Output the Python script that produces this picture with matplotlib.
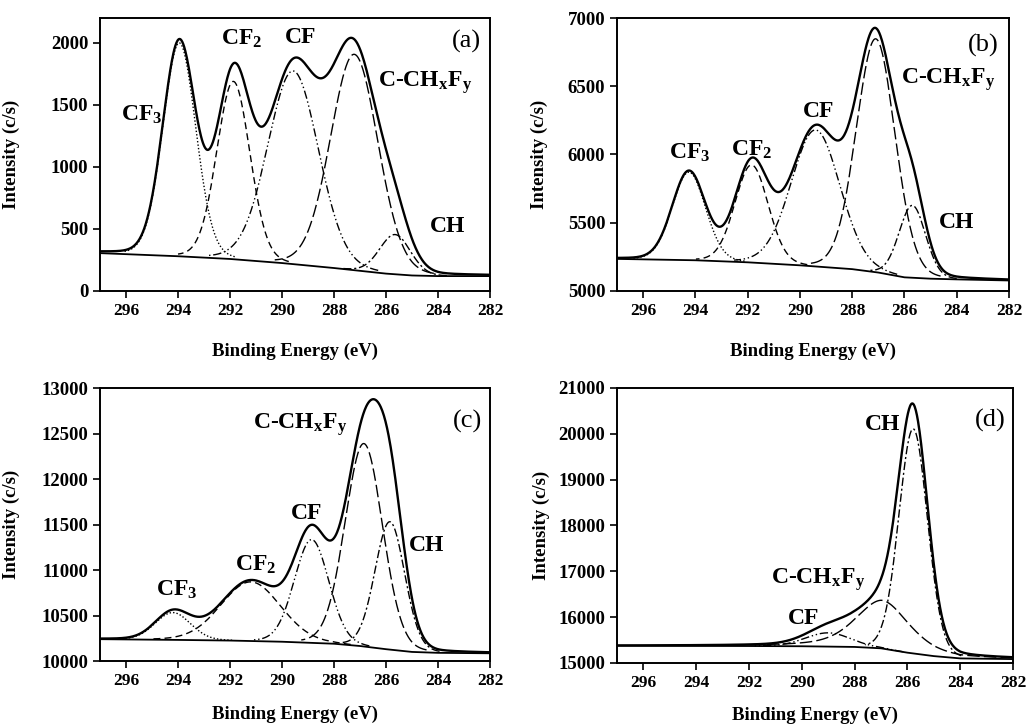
import numpy as np
import matplotlib.pyplot as plt

plt.rcParams['font.family'] = 'Liberation Serif'
plt.rcParams['font.weight'] = 'bold'
plt.rcParams['mathtext.fontset'] = 'custom'
plt.rcParams['mathtext.rm'] = 'Liberation Serif:bold'
plt.rcParams['mathtext.it'] = 'Liberation Serif:bold'
plt.rcParams['mathtext.bf'] = 'Liberation Serif:bold'

# fitted components: CF3, CF2, CF, C-CHxFy, CH
names = [r'CF$_3$', r'CF$_2$', 'CF', r'C-CH$_x$F$_y$', 'CH']
styles = [(0, (1, 1.5)), (0, (5, 3)), (0, (6, 2, 1, 2, 1, 2)),
          (0, (9, 3)), (0, (6, 2, 1.5, 2))]

# (a)
a_center = [293.95, 291.87, 289.57, 287.22, 285.65]
a_height = [1720, 1433, 1557, 1740, 320]
a_fwhm = [1.5, 1.5, 2.3, 2.15, 1.4]
a_eta = [0.08, 0.08, 0.08, 0.08, 0.08]
a_bg_x = [282, 284, 285, 286, 288, 290, 292, 294, 297]
a_bg_y = [120, 120, 125, 140, 185, 225, 258, 280, 305]

# (b)
b_center = [294.25, 291.85, 289.4, 287.1, 285.7]
b_height = [645, 715, 1000, 1710, 530]
b_fwhm = [1.5, 1.5, 2.2, 1.75, 1.2]
b_eta = [0.08, 0.08, 0.08, 0.08, 0.08]
b_bg_x = [282, 284, 285, 286, 287, 288, 290, 292, 294, 297]
b_bg_y = [5077, 5085, 5090, 5100, 5135, 5160, 5188, 5210, 5225, 5235]

# (c)
c_center = [294.2, 291.2, 288.86, 286.85, 285.85]
c_height = [300, 650, 1135, 2230, 1405]
c_fwhm = [1.6, 2.7, 1.56, 1.7, 1.35]
c_eta = [0.08, 0.08, 0.08, 0.08, 0.08]
c_bg_x = [282, 284, 285, 286, 287, 288, 290, 292, 294, 297]
c_bg_y = [10085, 10090, 10100, 10130, 10165, 10190, 10212, 10225, 10232, 10240]

# (d)  no CF3 / CF2 component
d_center = [None, None, 289.0, 286.95, 285.78]
d_height = [0, 0, 300, 1050, 4900]
d_fwhm = [1, 1, 2.0, 2.4, 1.28]
d_eta = [0, 0, 0.08, 0.5, 0.08]
d_bg_x = [282, 284, 285, 286, 287, 288, 290, 292, 297]
d_bg_y = [15085, 15100, 15150, 15225, 15320, 15350, 15365, 15370, 15375]

panels = [
    ('(a)', a_center, a_height, a_fwhm, a_eta, a_bg_x, a_bg_y, (0, 2200), 500,
     [(295.4, 1420), (291.55, 2030), (289.3, 2040), (284.5, 1680), (283.65, 520)],
     (282.9, 2010), [0.0974, 0.5992, 0.3797, 0.376], -0.205, -0.19),
    ('(b)', b_center, b_height, b_fwhm, b_eta, b_bg_x, b_bg_y, (5000, 7000), 500,
     [(294.2, 6010), (291.85, 6035), (289.3, 6315), (284.35, 6550), (284.0, 5500)],
     (283.0, 6800), [0.6008, 0.5992, 0.3817, 0.376], -0.176, -0.19),
    ('(c)', c_center, c_height, c_fwhm, c_eta, c_bg_x, c_bg_y, (10000, 13000), 500,
     [(294.05, 10780), (291.0, 11055), (289.05, 11625), (289.3, 12595), (284.45, 11275)],
     (282.85, 12630), [0.0974, 0.0895, 0.3797, 0.376], -0.205, -0.165),
    ('(d)', d_center, d_height, d_fwhm, d_eta, d_bg_x, d_bg_y, (15000, 21000), 1000,
     [None, None, (289.95, 15970), (289.4, 16810), (286.95, 20200)],
     (282.85, 20300), [0.6008, 0.0868, 0.3856, 0.3788], -0.169, -0.16),
]


def voigt(x, c, h, w, eta):
    u = ((x - c) / w) ** 2
    return h * (eta / (1 + 4 * u) + (1 - eta) * np.exp(-4 * np.log(2) * u))


fig = plt.figure(figsize=(10.27, 7.26), dpi=100)
x = np.linspace(282, 297, 751)

for tag, cen, hgt, fw, eta, bgx, bgy, ylim, ystep, lpos, tpos, rect, ylx, xly in panels:
    ax = fig.add_axes(rect)
    bg = np.interp(x, bgx, bgy)
    total = bg.copy()
    for i in range(5):
        if cen[i] is None:
            continue
        comp = voigt(x, cen[i], hgt[i], fw[i], eta[i])
        total += comp
        y = np.where(comp > 0.012 * hgt[i], bg + comp, np.nan)
        ax.plot(x, y, color='black', lw=1.0, linestyle=styles[i])
    ax.plot(bgx, bgy, color='black', lw=1.3)
    ax.plot(x, total, color='black', lw=1.7)

    for i in range(5):
        if lpos[i] is not None:
            ax.text(lpos[i][0], lpos[i][1], names[i], fontsize=17,
                    fontweight='bold', ha='center', va='center')
    ax.text(tpos[0], tpos[1], tag, fontsize=19, fontweight='normal',
            ha='center', va='center')

    ax.set_xlim(297, 282)
    ax.set_ylim(*ylim)
    ax.set_xticks(np.arange(296, 281, -2))
    ax.set_yticks(np.arange(ylim[0], ylim[1] + 1, ystep))
    ax.tick_params(direction='out', length=5, width=1.2)
    ax.tick_params(axis='x', labelsize=12.5)
    ax.tick_params(axis='y', labelsize=13.5)
    for s in ax.spines.values():
        s.set_linewidth(1.4)
    ax.set_xlabel('Binding Energy (eV)', fontsize=13.5, fontweight='bold')
    ax.set_ylabel('Intensity (c/s)', fontsize=13.5, fontweight='bold')
    ax.yaxis.set_label_coords(ylx, 0.5)
    ax.xaxis.set_label_coords(0.5, xly)

fig.savefig('out.png', dpi=100)
